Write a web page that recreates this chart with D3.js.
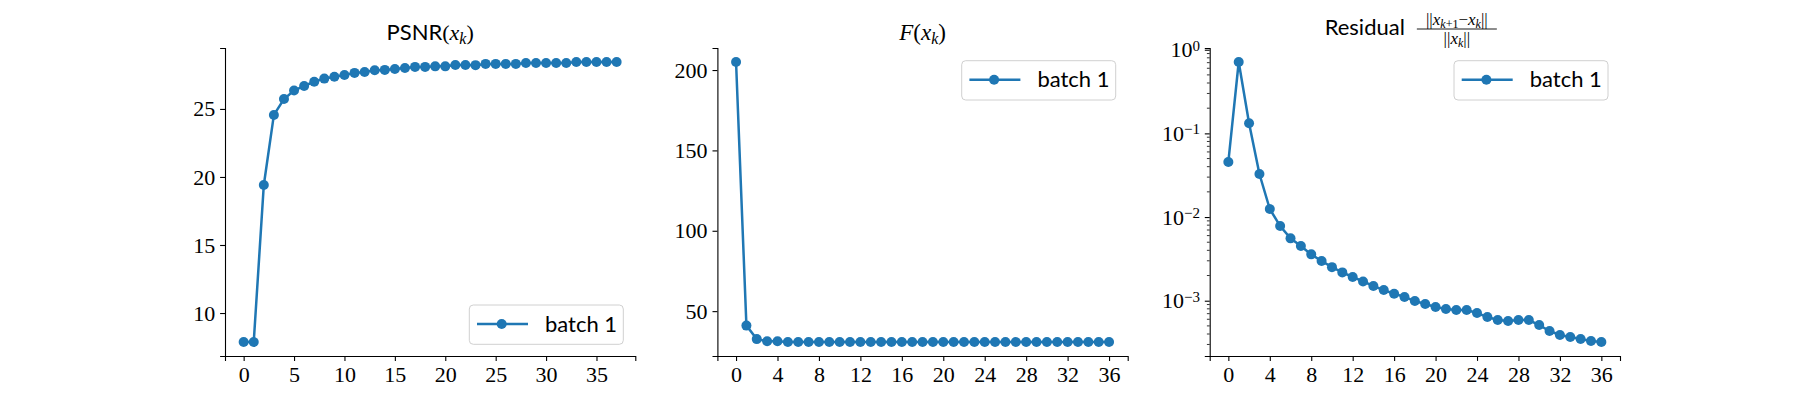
<!DOCTYPE html>
<html>
<head>
<meta charset="utf-8">
<script src="https://cdn.jsdelivr.net/npm/d3@7"></script>
<style>
  body { margin: 0; background: #fff; }
  .tick text { font-family: "Liberation Serif", serif; font-size: 22px; fill: #000; }
  .domain, .tick line { stroke: #000; stroke-width: 1.1px; }
  .sans { font-family: Lato, "Open Sans", sans-serif; }
  .serif { font-family: "Liberation Serif", serif; }
</style>
</head>
<body>
<svg id="fig" width="1800" height="400"></svg>
<script>
// values, one entry per iteration k
var psnr = [7.87, 7.87, 19.41, 24.56, 25.73, 26.35, 26.69, 27.0, 27.23, 27.37,
            27.5, 27.65, 27.72, 27.84, 27.87, 27.94, 28.01, 28.09, 28.09, 28.13,
            28.13, 28.23, 28.23, 28.22, 28.31, 28.31, 28.31, 28.31, 28.38, 28.38,
            28.38, 28.38, 28.38, 28.45, 28.45, 28.45, 28.45, 28.45];
var objective = [205.0, 41.0, 32.6, 31.3, 31.3, 30.8, 30.8, 30.8, 30.8, 30.8,
                 30.8, 30.8, 30.8, 30.8, 30.8, 30.8, 30.8, 30.8, 30.8, 30.8,
                 30.8, 30.8, 30.8, 30.8, 30.8, 30.8, 30.8, 30.8, 30.8, 30.8,
                 30.8, 30.8, 30.8, 30.8, 30.8, 30.8, 30.8];
var residual = [0.0455, 0.713, 0.132, 0.0327, 0.01247, 0.0078, 0.00556, 0.0045, 0.00358, 0.00298,
                0.00252, 0.00218, 0.00192, 0.0017, 0.0015, 0.00134, 0.00121, 0.00111, 0.00099, 0.000912,
                0.00084, 0.000796, 0.000774, 0.000774, 0.000713, 0.000638, 0.000588, 0.000572, 0.000588, 0.000588,
                0.000512, 0.000434, 0.000389, 0.000368, 0.000348, 0.00033, 0.000321];

var psnrTicksX = [0, 5, 10, 15, 20, 25, 30, 35];
var iterTicksX = [0, 4, 8, 12, 16, 20, 24, 28, 32, 36];
var psnrTicksY = [10, 15, 20, 25];
var objTicksY = [50, 100, 150, 200];
var resTicksY = [1, 0.1, 0.01, 0.001];
var seriesName = "batch 1";

var blue = "#1f77b4";
var svg = d3.select("#fig");
var marginTop = 48, h = 356 - 48, w = 410.3;

// matplotlib style 5% margins
function pad(ext) {
  var d = (ext[1] - ext[0]) * 0.05;
  return [ext[0] - d, ext[1] + d];
}

function panel(opt) {
  var g = svg.append("g").attr("transform", "translate(" + opt.left + "," + marginTop + ")");

  var x = d3.scaleLinear()
      .domain(pad([0, opt.values.length - 1]))
      .range([0, w]);

  var y;
  if (opt.log) {
    var e = pad(d3.extent(opt.values).map(Math.log10));
    y = d3.scaleLog().domain([Math.pow(10, e[0]), Math.pow(10, e[1])]).range([h, 0]);
  } else {
    y = d3.scaleLinear().domain(pad(d3.extent(opt.values))).range([h, 0]);
  }

  g.append("g")
      .attr("transform", "translate(0," + h + ")")
      .call(d3.axisBottom(x).tickValues(opt.ticksX).tickSizeOuter(0).tickSize(4.9).tickPadding(5.5).tickFormat(d3.format("d")));

  var ya = g.append("g")
      .call(d3.axisLeft(y).tickValues(opt.ticksY).tickSizeOuter(0).tickSize(4.9).tickPadding(4.9)
        .tickFormat(opt.log ? function() { return ""; } : d3.format("d")));

  if (opt.log) {
    // powers of ten labels
    ya.selectAll(".tick text").each(function(d) {
      var t = d3.select(this), p = Math.round(Math.log10(d));
      t.append("tspan").text("10");
      t.append("tspan").attr("dy", "-0.45em").style("font-size", "15px")
        .text(p < 0 ? "\u2212" + (-p) : p);
    });
    // minor ticks
    var dom = y.domain(), minors = [];
    for (var k = -5; k <= 1; k++) {
      for (var m = 2; m <= 9; m++) {
        var v = m * Math.pow(10, k);
        if (v >= dom[0] && v <= dom[1]) minors.push(v);
      }
    }
    ya.selectAll("line.minor").data(minors)
      .enter().append("line")
        .attr("class", "minor")
        .attr("x1", 0).attr("x2", -2.8)
        .attr("y1", function(d) { return y(d); })
        .attr("y2", function(d) { return y(d); })
        .attr("stroke", "#000").attr("stroke-width", 0.8);
  }

  var line = d3.line()
      .x(function(d, i) { return x(i); })
      .y(function(d) { return y(d); });

  g.append("path")
      .datum(opt.values)
      .attr("d", line)
      .attr("fill", "none")
      .attr("stroke", blue)
      .attr("stroke-width", 2.5);

  g.selectAll("circle.pt").data(opt.values)
    .enter().append("circle")
      .attr("class", "pt")
      .attr("cx", function(d, i) { return x(i); })
      .attr("cy", function(d) { return y(d); })
      .attr("r", 5)
      .attr("fill", blue);

  // legend
  var lg = g.append("g").attr("transform", "translate(" + (w - 166) + "," + opt.legendY + ")");
  lg.append("rect")
      .attr("width", 154).attr("height", 39.3).attr("rx", 4)
      .attr("fill", "#fff").attr("fill-opacity", 0.8)
      .attr("stroke", "#d0d0d0").attr("stroke-width", 1);
  lg.append("line")
      .attr("x1", 7.7).attr("x2", 58.7).attr("y1", 19).attr("y2", 19)
      .attr("stroke", blue).attr("stroke-width", 2.5);
  lg.append("circle").attr("cx", 32.4).attr("cy", 19).attr("r", 5).attr("fill", blue);
  lg.append("text")
      .attr("class", "sans")
      .attr("x", 75.7).attr("y", 26.5)
      .style("font-size", "22px")
      .text(seriesName);

  return g;
}

var p1 = panel({ left: 225, values: psnr, ticksX: psnrTicksX, ticksY: psnrTicksY, legendY: 257 });
var p2 = panel({ left: 717.4, values: objective, ticksX: iterTicksX, ticksY: objTicksY, legendY: 12.7 });
var p3 = panel({ left: 1209.7, values: residual, ticksX: iterTicksX, ticksY: resTicksY, log: true, legendY: 12.7 });

// titles
var t1 = p1.append("text").attr("x", w / 2).attr("y", -8).attr("text-anchor", "middle").style("font-size", "22px");
t1.append("tspan").attr("class", "sans").text("PSNR");
t1.append("tspan").attr("class", "serif").text("(");
t1.append("tspan").attr("class", "serif").style("font-style", "italic").text("x");
t1.append("tspan").attr("class", "serif").style("font-style", "italic").style("font-size", "16px").attr("dy", 4).text("k");
t1.append("tspan").attr("class", "serif").attr("dy", -4).text(")");

var t2 = p2.append("text").attr("x", w / 2).attr("y", -8).attr("text-anchor", "middle")
    .attr("class", "serif").style("font-size", "23px");
t2.append("tspan").style("font-style", "italic").text("F");
t2.append("tspan").text("(");
t2.append("tspan").style("font-style", "italic").text("x");
t2.append("tspan").style("font-style", "italic").style("font-size", "16px").attr("dy", 4).text("k");
t2.append("tspan").attr("dy", -4).text(")");

var cx = w / 2;
p3.append("text").attr("class", "sans").attr("x", cx - 10).attr("y", -13)
    .attr("text-anchor", "end")
    .style("font-size", "22px").text("Residual");
p3.append("line")
    .attr("x1", cx + 2).attr("x2", cx + 82).attr("y1", -19).attr("y2", -19)
    .attr("stroke", "#000").attr("stroke-width", 0.9);
var num = p3.append("text").attr("class", "serif").attr("x", cx + 42).attr("y", -23)
    .attr("text-anchor", "middle").style("font-size", "17px");
num.append("tspan").text("||");
num.append("tspan").style("font-style", "italic").text("x");
num.append("tspan").style("font-style", "italic").style("font-size", "12px").attr("dy", 3).text("k");
num.append("tspan").style("font-size", "12px").text("+1");
num.append("tspan").attr("dy", -3).text("\u2212");
num.append("tspan").style("font-style", "italic").text("x");
num.append("tspan").style("font-style", "italic").style("font-size", "12px").attr("dy", 3).text("k");
num.append("tspan").attr("dy", -3).text("||");
var den = p3.append("text").attr("class", "serif").attr("x", cx + 42).attr("y", -4)
    .attr("text-anchor", "middle").style("font-size", "17px");
den.append("tspan").text("||");
den.append("tspan").style("font-style", "italic").text("x");
den.append("tspan").style("font-style", "italic").style("font-size", "12px").attr("dy", 3).text("k");
den.append("tspan").attr("dy", -3).text("||");
</script>
</body>
</html>
